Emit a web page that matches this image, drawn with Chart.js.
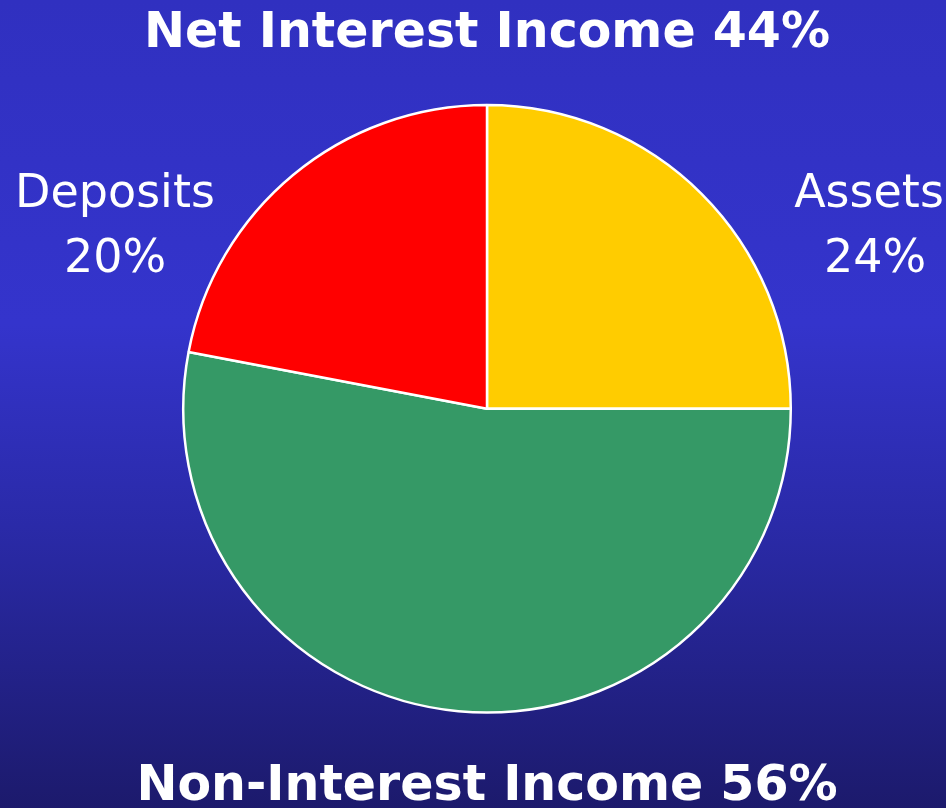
<!DOCTYPE html>
<html>
<head>
<meta charset="utf-8">
<script src="https://cdn.jsdelivr.net/npm/chart.js@4/dist/chart.umd.min.js"></script>
<style>
  html, body { margin: 0; padding: 0; }
  body {
    width: 946px; height: 808px; overflow: hidden;
    background: linear-gradient(to bottom, #3030c0 0%, #3434cc 40%, #2a2aa8 65%, #1c1a6c 100%);
  }
  #wrap { width: 946px; height: 808px; }
</style>
</head>
<body>
<div id="wrap"><canvas id="income-pie"></canvas></div>
<script>
// slice order runs clockwise from 12 o'clock
var categories = ['Assets', 'Non-Interest Income', 'Deposits'];
var sliceValues = [25, 53, 22];          // share of the circle as drawn
var shownPercent = [24, 56, 20];         // percentages printed on the slide
var sliceColors = ['#ffcc00', '#359966', '#ff0000'];

var topTitle = 'Net Interest Income 44%';
var bottomTitle = 'Non-Interest Income 56%';

// side labels: text lines, offsets from pie centre
var sideLabels = [
    { lines: [categories[2], shownPercent[2] + '%'], dx: [-372, -372], dy: [-202, -137] },
    { lines: [categories[0], shownPercent[0] + '%'], dx: [382, 388], dy: [-202, -137] }
];

var sideLabelPlugin = {
    id: 'sideLabels',
    afterDraw: function (chart) {
        var ctx = chart.ctx;
        var area = chart.chartArea;
        var cx = (area.left + area.right) / 2;
        var cy = (area.top + area.bottom) / 2;
        ctx.save();
        ctx.fillStyle = '#ffffff';
        ctx.font = '46px "DejaVu Sans"';
        ctx.textAlign = 'center';
        ctx.textBaseline = 'alphabetic';
        sideLabels.forEach(function (l) {
            l.lines.forEach(function (txt, i) {
                ctx.fillText(txt, cx + l.dx[i], cy + l.dy[i]);
            });
        });
        ctx.restore();
    }
};

new Chart('income-pie', {
    type: 'pie',
    data: {
        labels: categories,
        datasets: [{
            data: sliceValues,
            backgroundColor: sliceColors,
            borderColor: '#ffffff',
            borderWidth: 2.5
        }]
    },
    options: {
        responsive: true,
        maintainAspectRatio: false,
        animation: false,
        layout: { padding: { left: 28, right: 0, top: 0, bottom: 0 } },
        plugins: {
            legend: { display: false },
            tooltip: { enabled: false },
            title: {
                display: true,
                text: topTitle,
                color: '#ffffff',
                font: { family: 'DejaVu Sans', size: 49, weight: 'bold', lineHeight: 1.2 },
                padding: { top: 5, bottom: 40 }
            },
            subtitle: {
                display: true,
                position: 'bottom',
                text: bottomTitle,
                color: '#ffffff',
                font: { family: 'DejaVu Sans', size: 49, weight: 'bold', lineHeight: 0.86 },
                padding: { top: 52, bottom: 0 }
            }
        }
    },
    plugins: [sideLabelPlugin]
});
</script>
</body>
</html>
